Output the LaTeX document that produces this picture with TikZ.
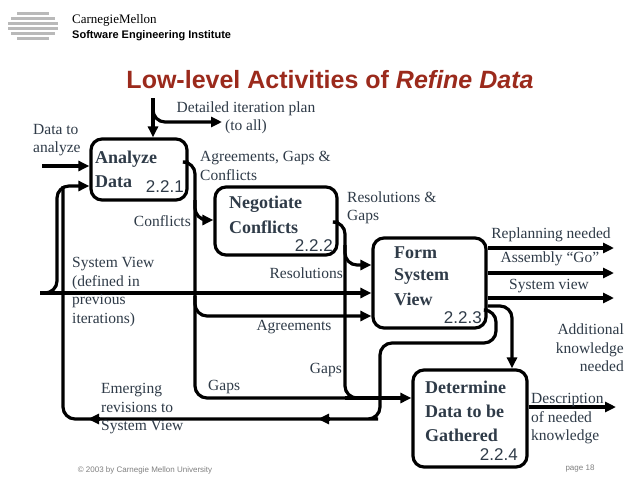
\documentclass[tikz,border=0pt]{standalone}
\usepackage{fontspec}
\setmainfont{Liberation Serif}
\newfontfamily\hv{Liberation Sans}
\usetikzlibrary{arrows.meta}
\definecolor{ttl}{HTML}{9B2A1C}
\definecolor{txt}{HTML}{2F3B48}
\begin{document}
\begin{tikzpicture}[x=1pt,y=-1pt,
  proc/.style={draw,line width=3.2pt,rounded corners=11pt,inner sep=0},
  flow/.style={line width=3.2pt,-{Triangle[length=11pt,width=10pt]},rounded corners=12pt},
  line/.style={line width=3.2pt,rounded corners=12pt},
  lab/.style={font=\fontsize{15.5}{15.5}\selectfont,text=txt,inner sep=0},
  blab/.style={font=\fontsize{18}{18}\selectfont\bfseries,text=txt,inner sep=0,anchor=west},
  num/.style={font=\hv\fontsize{17}{17}\selectfont,text=txt,inner sep=0,anchor=east}]
\useasboundingbox (0,0) rectangle (640,482);
\fill[white] (0,0) rectangle (640,482);
% logo
\foreach \y/\w in {12/16,17/22,22/25,27/25,32/22,37/16}
  \fill[gray!55] (33-\w,\y) rectangle (33+\w,\y+2.5);
\node[anchor=west,inner sep=0,font=\fontsize{13}{13}\selectfont] (lg1) at (72,20) {CarnegieMellon};
\node[anchor=west,inner sep=0,font=\hv\bfseries\fontsize{11}{11}\selectfont] (lg2) at (72,36) {Software Engineering Institute};
\node[font=\hv\bfseries\fontsize{25}{25}\selectfont,text=ttl,inner sep=0] (title) at (330,80) {Low-level Activities of \textit{Refine Data}};
% boxes
\node[proc,minimum width=96pt,minimum height=61pt] (A) at (139,169.5) {};
\node[proc,minimum width=122pt,minimum height=68pt] (N) at (276,221) {};
\node[proc,minimum width=113pt,minimum height=90pt] (F) at (429.5,283) {};
\node[proc,minimum width=114pt,minimum height=97pt] (D) at (470,418.5) {};
\node[blab] (a1) at (95,159) {Analyze};
\node[blab] (a2) at (95,182) {Data};
\node[num] (a3) at (184,187) {2.2.1};
\node[blab] (n1) at (229,204) {Negotiate};
\node[blab] (n2) at (229,227) {Conflicts};
\node[num] (n3) at (333,246) {2.2.2};
\node[blab] (f1) at (394,253) {Form};
\node[blab] (f2) at (394,276) {System};
\node[blab] (f3) at (394,299) {View};
\node[num] (f4) at (482,318) {2.2.3};
\node[blab] (d1) at (425,387) {Determine};
\node[blab] (d2) at (425,411) {Data to be};
\node[blab] (d3) at (425,435) {Gathered};
\node[num] (d4) at (518,455) {2.2.4};
% coordinates
\coordinate (in1) at (42,166);
\coordinate (top) at (153,98);
\coordinate (plan) at (222,122);
\coordinate (sv) at (40,293);
\coordinate (o1) at (614,248);
\coordinate (o2) at (614,273);
\coordinate (o3) at (614,298);
\coordinate (o4) at (616,407);
% flows
\draw[flow] (in1) -- (A.west|-in1);
\draw[flow] (top) -- (A.north-|top);
\draw[flow] (153,106) -- (153,122) -- (plan);
\draw[flow] (sv) -- (F.west|-sv);
\draw[flow] (46,293) -- (57,293) -- (57,186) -- (A.west|-0,186);
\draw[line] (63,186) -- (63,419) -- (366,419) -- (380,419) -- (380,343) -- (496,343) -- (496,310) -- (F.east|-0,310);
\draw[line] (A.east|-0,162) -- (195,162) -- (195,398) -- (345,398);
\draw[flow] (345,398) -- (D.west|-0,398);
\draw[flow] (195,200) -- (195,220) -- (N.west|-0,220);
\draw[flow] (195,296) -- (195,316) -- (F.west|-0,316);
\draw[line] (N.east|-0,222) -- (345,222) -- (345,398) -- (358,398);
\draw[flow] (345,245) -- (345,265) -- (F.west|-0,265);
\draw[flow] (F.east|-o1) -- (o1);
\draw[flow] (F.east|-o2) -- (o2);
\draw[flow] (F.east|-o3) -- (o3);
\draw[flow] (F.east|-0,306) -- (512,306) -- (D.north-|512,0);
\draw[flow] (330,419) -- (318,419);
\draw[flow] (100,419) -- (88,419);
\draw[flow] (D.east|-o4) -- (o4);
% labels
\node[lab,align=left,anchor=west] (l1) at (33,140) {Data to\\[3pt]analyze};
\node[lab,align=center] (l2) at (246,118) {Detailed iteration plan\\[3pt](to all)};
\node[lab,align=left,anchor=west] (l3) at (200,166) {Agreements, Gaps \&\\[3pt]Conflicts};
\node[lab,anchor=east] (l4) at (191,221) {Conflicts};
\node[lab,align=left,anchor=west] (l5) at (347,208) {Resolutions \&\\[3pt]Gaps};
\node[lab,align=left,anchor=west] (l6) at (72,292) {System View\\[3pt](defined in\\[3pt]previous\\[3pt]iterations)};
\node[lab,anchor=east] (l7) at (343,273) {Resolutions};
\node[lab] (l8) at (294,327) {Agreements};
\node[lab,anchor=east] (l9) at (342,370) {Gaps};
\node[lab,anchor=west] (l10) at (208,387) {Gaps};
\node[lab,align=left,anchor=west] (l11) at (101,409) {Emerging\\[3pt]revisions to\\[3pt]System View};
\node[lab] (l12) at (551,235) {Replanning needed};
\node[lab] (l13) at (550,259) {Assembly “Go”};
\node[lab] (l14) at (549,286) {System view};
\node[lab,align=right,anchor=east] (l15) at (624,348) {Additional\\[3pt]knowledge\\[3pt]needed};
\node[lab,align=left,anchor=west] (l16) at (531,419) {Description\\[3pt]of needed\\[3pt]knowledge};
\node[font=\hv\fontsize{8}{8}\selectfont,text=gray,inner sep=0] (c1) at (145,470) {© 2003 by Carnegie Mellon University};
\node[font=\hv\fontsize{8}{8}\selectfont,text=gray,inner sep=0] (c2) at (580,469) {page 18};
\end{tikzpicture}
\end{document}
